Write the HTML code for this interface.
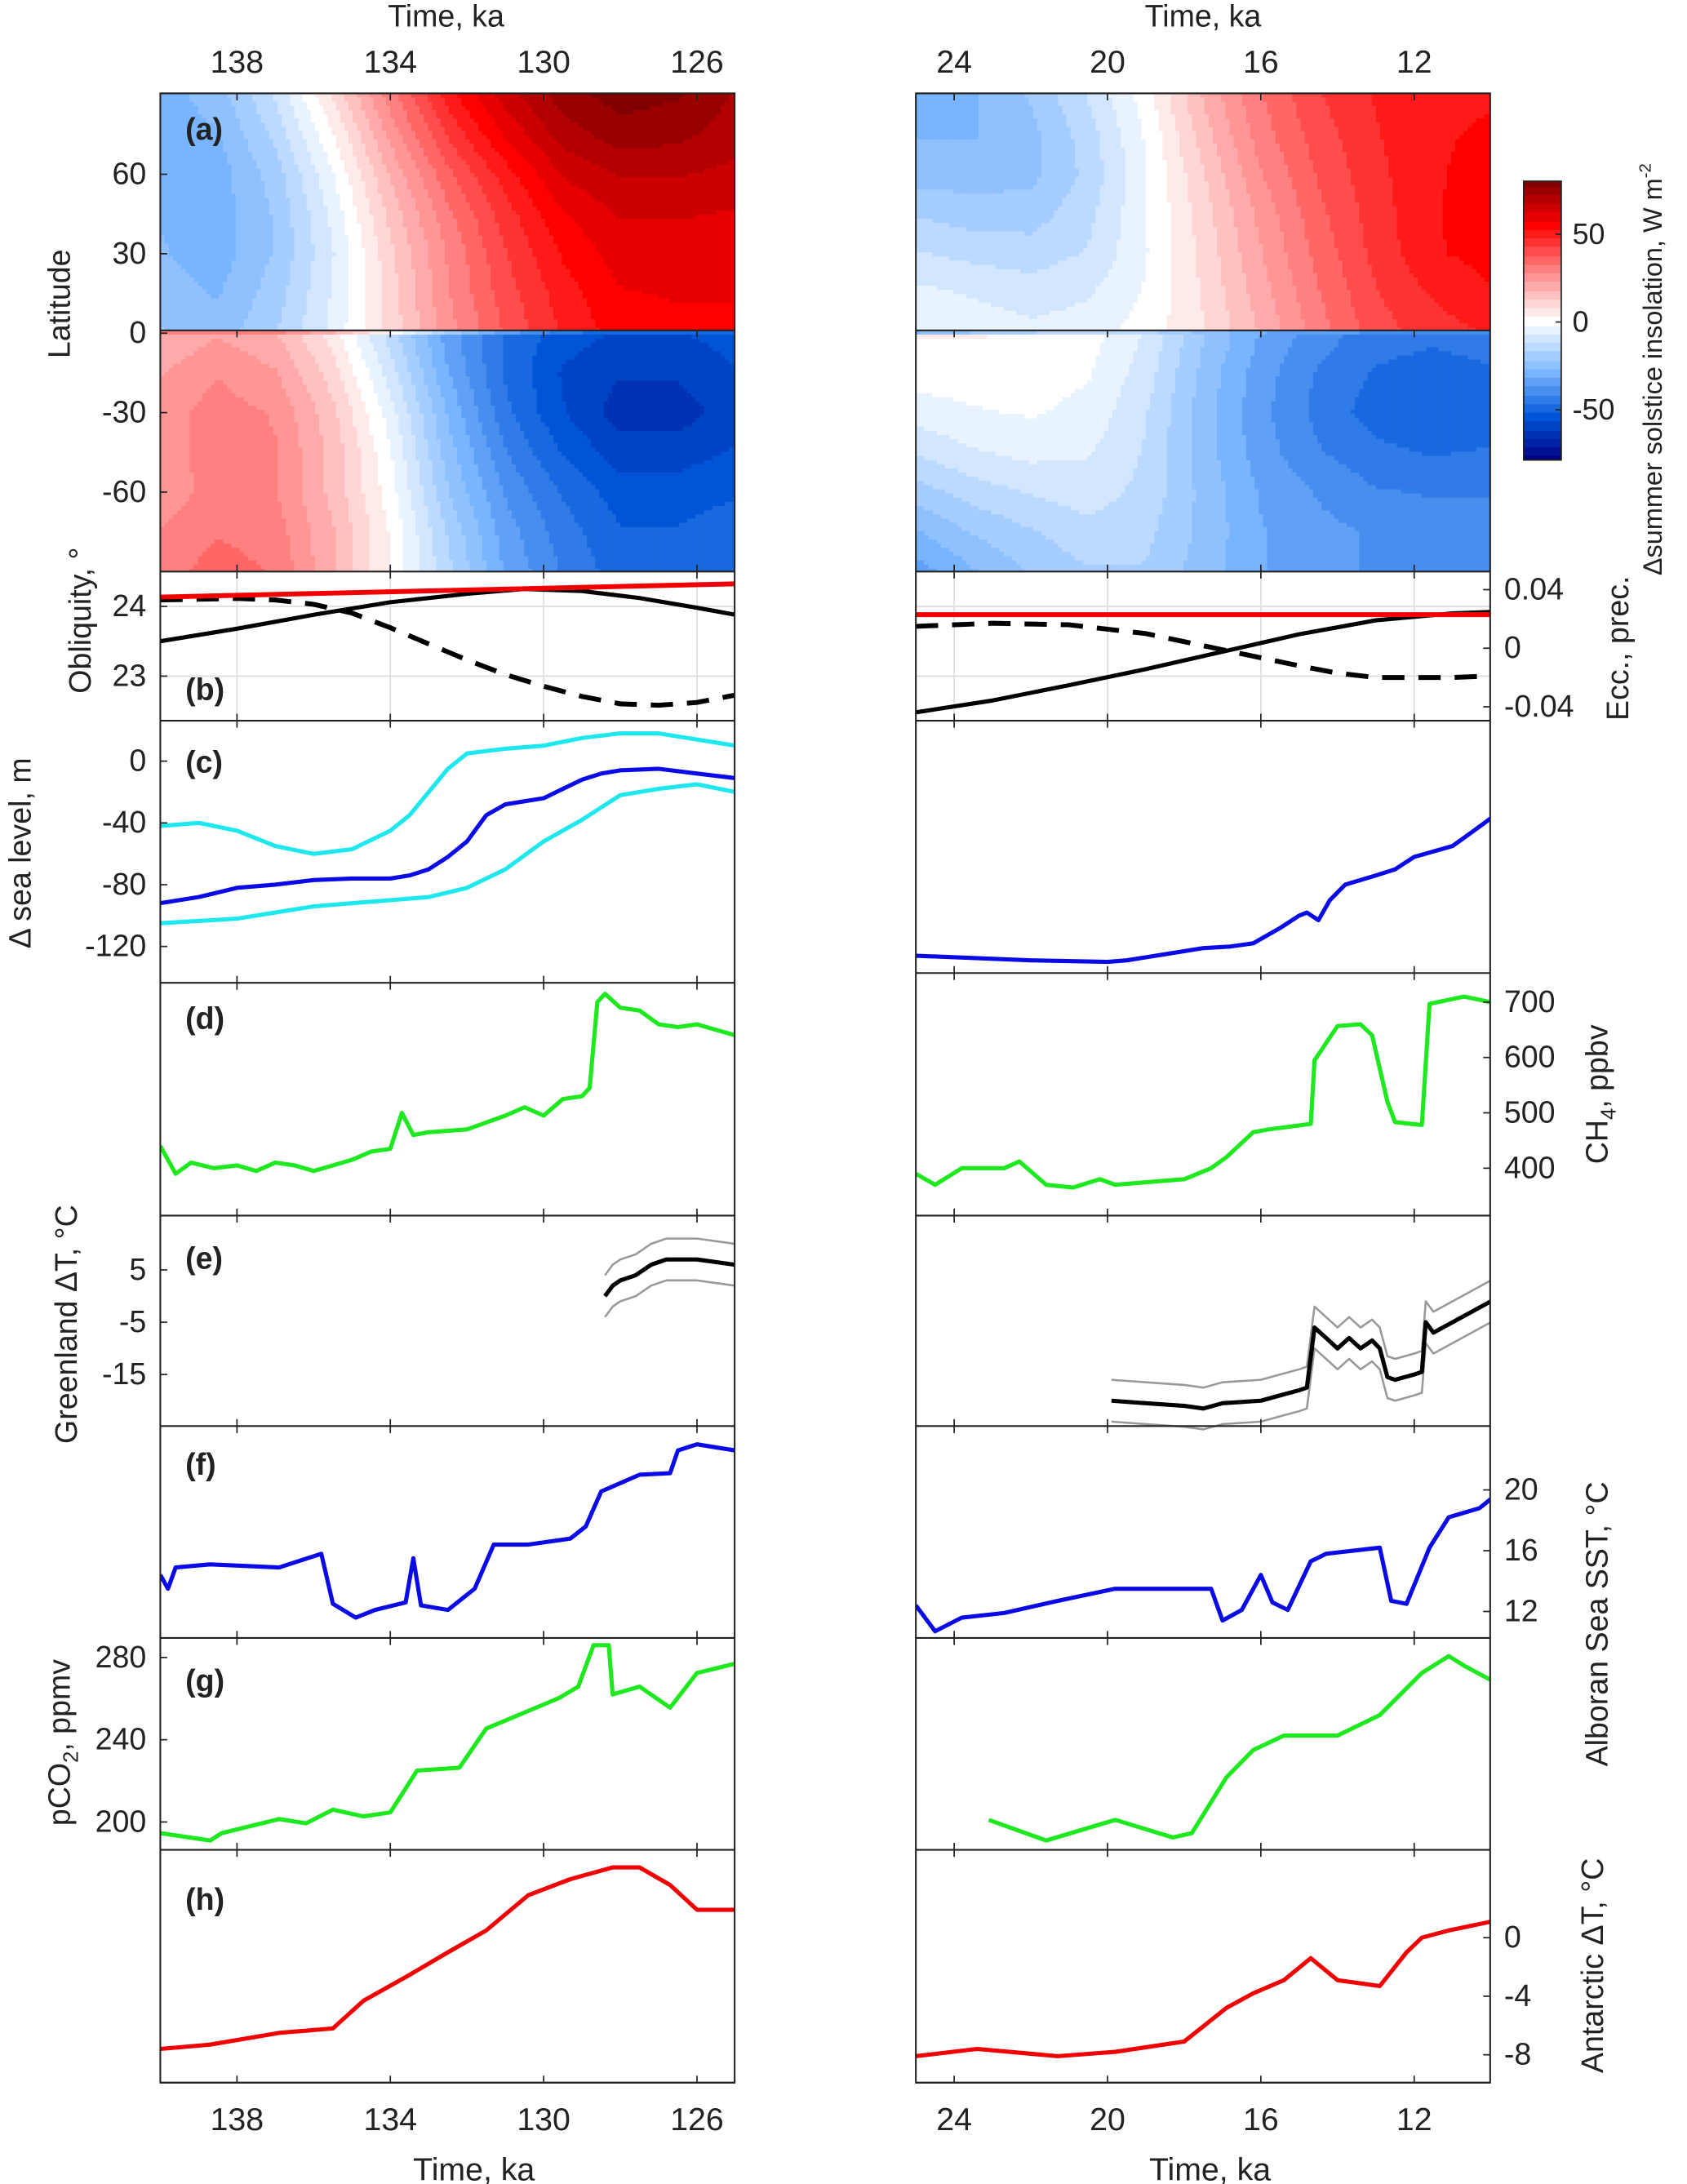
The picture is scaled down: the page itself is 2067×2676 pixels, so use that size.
<!DOCTYPE html>
<html><head><meta charset="utf-8"><style>
html,body{margin:0;padding:0;background:#fff}
svg{display:block}
text{font-family:"Liberation Sans",sans-serif;fill:#222}
</style></head><body>
<svg id="fig" xmlns="http://www.w3.org/2000/svg" width="2067" height="2676" viewBox="0 0 1210.2 1566.7" preserveAspectRatio="none">
<defs>
<clipPath id="cL"><rect x="115" y="67" width="412" height="1427"/></clipPath>
<clipPath id="cR"><rect x="657" y="67" width="412" height="1427"/></clipPath>
</defs>
<g id="heat"></g>
<g id="grid"></g>
<g id="series"></g>
<g id="axes"></g>
<g id="labels">
<text x="320" y="19" font-size="22" text-anchor="middle">Time, ka</text>
<text x="863" y="19" font-size="22" text-anchor="middle">Time, ka</text>
<text x="340" y="1564" font-size="23" text-anchor="middle">Time, ka</text>
<text x="868" y="1564" font-size="23" text-anchor="middle">Time, ka</text>
<text transform="translate(50,218) rotate(-90)" font-size="22" text-anchor="middle">Latitude</text>
<text transform="translate(65,445) rotate(-90)" font-size="22" text-anchor="middle">Obliquity, °</text>
<text transform="translate(22,612) rotate(-90)" font-size="22" text-anchor="middle">Δ sea level, m</text>
<text transform="translate(55,950) rotate(-90)" font-size="22" text-anchor="middle">Greenland ΔT, °C</text>
<text transform="translate(50,1250) rotate(-90)" font-size="22" text-anchor="middle">pCO<tspan font-size="15" dy="6">2</tspan><tspan dy="-6">, ppmv</tspan></text>
<text transform="translate(1168,465) rotate(-90)" font-size="22" text-anchor="middle">Ecc., prec.</text>
<text transform="translate(1153,785) rotate(-90)" font-size="22" text-anchor="middle">CH<tspan font-size="15" dy="6">4</tspan><tspan dy="-6">, ppbv</tspan></text>
<text transform="translate(1153,1165) rotate(-90)" font-size="22" text-anchor="middle">Alboran Sea SST, °C</text>
<text transform="translate(1150,1410) rotate(-90)" font-size="22" text-anchor="middle">Antarctic ΔT, °C</text>
<text transform="translate(1192,265) rotate(-90)" font-size="19" text-anchor="middle">Δsummer solstice insolation, W m<tspan font-size="12" dy="-8">-2</tspan></text>
</g>
</svg>
<script>
// ---------- DATA ----------
const heatTimesL=[140,138.5,137,135.5,134,132.5,131,129.5,128,126.5,125];
const heatTimesR=[25,23.5,22,20.5,19,17.5,16,14.5,13,11.5,10];
const latsN=[90,75,60,45,30,15,0];
const latsS=[0,-15,-30,-45,-60,-75,-90];
const heatNL=[[-30,-30,-28,-28,-27,-25,-22],[-25,-28,-30,-30,-30,-28,-25],[-12,-16,-20,-22,-22,-20,-18],[8,2,-3,-6,-8,-7,-6],[30,24,18,14,11,10,9],[50,43,36,31,28,27,25],[65,58,50,45,42,40,38],[75,70,63,57,53,50,48],[80,75,68,63,60,57,55],[78,74,68,63,60,58,56],[72,70,66,62,60,58,56]];
const heatSL=[[18,22,25,25,24,28,30],[22,27,30,30,30,32,35],[18,23,27,28,28,30,32],[5,10,14,16,16,18,18],[-15,-10,-5,-2,0,2,2],[-35,-32,-28,-25,-22,-18,-16],[-48,-48,-46,-42,-38,-35,-33],[-55,-58,-57,-53,-48,-45,-43],[-58,-62,-65,-60,-55,-52,-50],[-58,-62,-65,-60,-55,-52,-52],[-55,-58,-60,-57,-53,-50,-50]];
const heatNR=[[-30,-28,-25,-18,-12,-6,-3],[-28,-28,-25,-20,-14,-8,-4],[-22,-24,-24,-20,-15,-10,-6],[-12,-15,-16,-14,-12,-8,-5],[0,-2,-3,-3,-3,-2,0],[18,15,12,10,9,8,7],[32,30,27,24,22,20,18],[42,40,38,36,34,32,30],[48,47,46,45,44,42,40],[52,52,52,52,52,48,45],[52,53,54,55,54,52,48]];
const heatSR=[[3,0,-5,-12,-20,-28,-35],[3,0,-3,-8,-15,-22,-28],[2,0,-2,-6,-12,-18,-22],[0,-2,-4,-7,-10,-14,-18],[-8,-10,-12,-13,-14,-16,-18],[-22,-24,-25,-25,-24,-24,-25],[-33,-35,-36,-35,-33,-32,-32],[-40,-43,-44,-42,-38,-36,-36],[-45,-48,-50,-46,-42,-38,-38],[-46,-50,-52,-48,-43,-40,-40],[-45,-48,-50,-47,-43,-40,-42]];

const oblTL=[140,138,136,134,132,130.5,129,127.5,126,125];
const oblVL=[23.5,23.68,23.88,24.06,24.18,24.25,24.22,24.12,23.98,23.88];
const precTL=[140,138,137,136,135,134,133,132,131,130,129,128,127,126,125];
const precVL=[0.033,0.034,0.033,0.030,0.024,0.014,0.003,-0.008,-0.018,-0.026,-0.033,-0.038,-0.039,-0.037,-0.032];
const eccTL=[140,125];
const eccVL=[0.035,0.044];
const oblTR=[25,23,21,19,17,15,13,11,10];
const oblVR=[22.48,22.65,22.87,23.1,23.35,23.6,23.8,23.9,23.92];
const precTR=[25,23,21,19,17,15,14,13,12,11,10];
const precVR=[0.015,0.017,0.016,0.01,-0.001,-0.012,-0.017,-0.02,-0.02,-0.02,-0.019];
const eccTR=[25,10];
const eccVR=[0.023,0.023];

const slTL=[140,139,138,137,136,135,134,133.5,133,132.5,132,131.5,131,130,129.5,129,128.5,128,127,126,125];
const slVL=[-92,-88,-82,-80,-77,-76,-76,-74,-70,-62,-52,-35,-28,-24,-18,-12,-8,-6,-5,-8,-11];
const slUpTL=[140,139,138,137,136,135,134,133.5,133,132.5,132,131,130,129,128,127,126,125];
const slUpVL=[-42,-40,-45,-55,-60,-57,-45,-35,-20,-5,5,8,10,15,18,18,14,10];
const slLoTL=[140,138,137,136,135,134,133,132,131,130,129,128,127,126,125];
const slLoVL=[-105,-102,-98,-94,-92,-90,-88,-82,-70,-52,-38,-22,-18,-15,-20];
const slTR=[25,22,20,19.5,18.5,17.5,16.8,16.2,15.5,15,14.8,14.5,14.2,13.8,13,12.5,12,11,10.5,10];
const slVR=[-126,-129,-130,-129,-125,-121,-120,-118,-108,-100,-98,-103,-90,-80,-74,-70,-62,-55,-46,-37];

const ch4TL=[140,139.6,139.2,138.6,138,137.5,137,136.5,136,135.5,135,134.5,134,133.7,133.4,133,132,131,130.5,130,129.5,129,128.8,128.6,128.4,128,127.5,127,126.5,126,125.5,125];
const ch4VL=[440,390,410,400,405,395,410,405,395,405,415,430,435,500,460,465,470,495,510,495,525,530,545,700,715,690,685,660,655,660,650,640];
const ch4TR=[25,24.5,23.8,22.7,22.3,21.6,20.9,20.2,19.8,18,17.3,16.9,16.2,15.8,14.7,14.6,14,13.4,13.1,12.7,12.5,11.8,11.6,10.7,10];
const ch4VR=[390,370,400,400,412,370,365,380,370,380,400,420,465,470,480,595,657,660,640,520,483,478,697,710,700];

const grTL=[128.4,128.2,128,127.6,127.2,126.8,126,125];
const grVL=[0,2,3,4,6,7,7,6];
const grTR=[19.9,19,18,17.5,17,16,15.5,15,14.8,14.6,14.3,14,13.7,13.4,13.1,12.9,12.7,12.5,12,11.8,11.7,11.5,11,10.5,10];
const grVR=[-20,-20.5,-21,-21.5,-20.5,-20,-19,-18,-17.5,-6,-8,-10,-8,-10,-8.5,-10,-15.5,-16,-15,-14.5,-5,-7,-5,-3,-1];
const grErr=[4];

const sstTL=[140,139.8,139.6,138.7,136.9,135.8,135.5,134.9,134.4,133.6,133.4,133.2,132.5,131.8,131.3,130.4,129.3,128.9,128.5,127.5,126.7,126.5,126,125];
const sstVL=[14.4,13.5,14.9,15.1,14.9,15.8,12.5,11.6,12.1,12.6,15.5,12.4,12.1,13.5,16.4,16.4,16.8,17.6,19.9,21,21.1,22.6,23,22.6];
const sstTR=[25,24.5,23.8,22.7,21.3,19.8,18.7,17.3,17,16.5,16,15.7,15.3,14.7,14.3,13.6,12.9,12.6,12.2,11.6,11.1,10.3,10];
const sstVR=[12.4,10.7,11.6,11.9,12.7,13.5,13.5,13.5,11.4,12.1,14.4,12.6,12.1,15.3,15.8,16,16.2,12.7,12.5,16.2,18.2,18.8,19.4];

const co2TL=[140,138.7,138.4,136.9,136.2,135.5,134.7,134,133.3,132.2,131.5,129.6,129.1,128.7,128.3,128.2,127.5,126.7,126,125];
const co2VL=[194.6,191,194.6,201.4,199.3,206,202.7,204.7,225,226.4,245.4,260.3,265.8,286,286,262,265.8,255.6,272.5,277];
const co2TR=[23.1,21.6,19.8,18.3,17.8,16.9,16.2,15.4,14,12.9,11.8,11.1,10.7,10];
const co2VR=[201,191,201,192.5,194.6,221.7,235,242,242,252,272.5,280.7,276,269];

const antTL=[140,138.7,136.9,135.5,134.7,133.6,132.5,131.5,130.4,129.3,128.2,127.5,126.7,126,125];
const antVL=[-7.6,-7.3,-6.5,-6.2,-4.3,-2.7,-1,0.5,2.9,4,4.8,4.8,3.6,1.9,1.9];
const antTR=[25,23.4,21.3,19.8,18,16.9,16.2,15.4,14.7,14,12.9,12.2,11.8,11.1,10];
const antVR=[-8.1,-7.6,-8.1,-7.8,-7.1,-4.8,-3.8,-2.9,-1.4,-2.9,-3.3,-1,0,0.5,1.1];

const ticksTL=[138,134,130,126];
const ticksTR=[24,20,16,12];
const latTicks=[60,30,0,-30,-60];
const cbTicks=[50,0,-50];

// ---------- SCALES ----------
const NS='http://www.w3.org/2000/svg';
const xL=t=>115+(140-t)*27.5;
const xR=t=>657+(25-t)*27.5;
const yLat=l=>239-l*1.9;
const yObl=v=>435-(v-24)*50;
const yEcc=v=>465-v*1050;
const ySL=v=>546-v*1.108;
const yCH4=v=>838-(v-400)*0.397;
const yGr=v=>911-(v-5)*3.75;
const ySST=v=>1156-(v-12)*10.9;
const yCO2=v=>1307-(v-200)*1.475;
const yAnt=v=>1390-v*10.5;

function mk(tag,attrs,parent){const e=document.createElementNS(NS,tag);for(const k in attrs)e.setAttribute(k,attrs[k]);parent.appendChild(e);return e;}

// ---------- HEATMAP ----------
const stops=[[-80,[0,0,128]],[-55,[0,85,215]],[-30,[120,180,255]],[0,[255,255,255]],[30,[255,128,128]],[55,[255,0,0]],[80,[128,0,0]]];
function col(v){v=Math.round(v/5)*5;v=Math.max(-80,Math.min(80,v));
 for(let i=0;i<stops.length-1;i++){const a=stops[i],b=stops[i+1];if(v<=b[0]){const f=(v-a[0])/(b[0]-a[0]);const c=a[1].map((x,j)=>Math.round(x+(b[1][j]-x)*f));return 'rgb('+c.join(',')+')';}}
 return 'rgb(128,0,0)';}
function interp(times,lats,M,t,l){
 let i=0;while(i<times.length-2 && !((t<=times[i]&&t>=times[i+1])||(t>=times[i]&&t<=times[i+1])))i++;
 let fi=(t-times[i])/(times[i+1]-times[i]);fi=Math.max(0,Math.min(1,fi));
 let j=0;while(j<lats.length-2 && !(l<=lats[j]&&l>=lats[j+1]))j++;
 let fj=(l-lats[j])/(lats[j+1]-lats[j]);fj=Math.max(0,Math.min(1,fj));
 const a=M[i][j],b=M[i+1][j],c=M[i][j+1],d=M[i+1][j+1];
 return (a*(1-fi)+b*fi)*(1-fj)+(c*(1-fi)+d*fi)*fj;}
const heat=document.getElementById('heat');
function drawHeat(x0,times,lats,M,y0,y1,name,clip){
 const g=mk('g',{'clip-path':'url(#'+clip+')'},heat);
 
 
 const cw=3,ch=3;
 const t0=times[0],t1=times[times.length-1];
 for(let px=0;px<412;px+=cw){const t=t0+(t1-t0)*(px+cw/2)/412;
  let run=null,runY=0;
  for(let py=y0;py<y1;py+=ch){const l=(239-(py+ch/2))/1.9;const c=col(interp(times,lats,M,t,l));
   if(c!==run){if(run)mk('rect',{x:x0+px,y:runY,width:cw+0.6,height:py-runY+0.6,fill:run},g);run=c;runY=py;}}
  mk('rect',{x:x0+px,y:runY,width:cw+0.6,height:y1-runY,fill:run},g);}
}
drawHeat(115,heatTimesL,latsN,heatNL,67,237,'heatmap-north-left','cL');
drawHeat(115,heatTimesL,latsS,heatSL,237,410,'heatmap-south-left','cL');
drawHeat(657,heatTimesR,latsN,heatNR,67,237,'heatmap-north-right','cR');
drawHeat(657,heatTimesR,latsS,heatSR,237,410,'heatmap-south-right','cR');
// colorbar
const cb=mk('g',{},heat);


for(let y=130;y<330;y+=1){const v=80-(y-130)*160/200;mk('rect',{x:1093,y:y,width:27,height:1.4,fill:col(v)},cb);}
mk('rect',{x:1093,y:130,width:27,height:200,fill:'none',stroke:'#222','stroke-width':1},cb);
cbTicks.forEach(v=>{const y=231-v*1.26;mk('line',{x1:1116,x2:1120,y1:y,y2:y,stroke:'#222'},cb);
 const t=mk('text',{x:1128,y:y+7,'font-size':21},cb);t.textContent=v;
 
 });

// ---------- GRID (panel b) ----------
const grid=document.getElementById('grid');
[[115,xL,ticksTL],[657,xR,ticksTR]].forEach(([x0,xs,tk])=>{
 [435,485].forEach(y=>mk('line',{x1:x0,x2:x0+412,y1:y,y2:y,stroke:'#ddd','stroke-width':1},grid));
 tk.forEach(t=>mk('line',{x1:xs(t),x2:xs(t),y1:410,y2:517,stroke:'#ddd','stroke-width':1},grid));
});

// ---------- SERIES ----------
const ser=document.getElementById('series');
function line(ts,vs,xs,ys,color,w,name,clip,dash){
 let d='';ts.forEach((t,i)=>{d+=(i?'L':'M')+xs(t).toFixed(1)+','+ys(vs[i]).toFixed(1);});
 const p=mk('path',{d:d,fill:'none',stroke:color,'stroke-width':w,'stroke-linejoin':'round','clip-path':'url(#'+clip+')'},ser);
 if(dash)p.setAttribute('stroke-dasharray',dash);
 
 
 return p;}
const G='#1ee81e',B='#0a0ae6',C='#1ee8ee',R='#f00000';
line(oblTL,oblVL,xL,yObl,'#000',3,'obliquity-line-left','cL');
line(precTL,precVL,xL,yEcc,'#000',3.5,'precession-line-left','cL','16,10');
line(eccTL,eccVL,xL,yEcc,R,3.5,'eccentricity-line-left','cL');
line(oblTR,oblVR,xR,yObl,'#000',3,'obliquity-line-right','cR');
line(precTR,precVR,xR,yEcc,'#000',3.5,'precession-line-right','cR','16,10');
line(eccTR,eccVR,xR,yEcc,R,3.5,'eccentricity-line-right','cR');
line(slUpTL,slUpVL,xL,ySL,C,3,'sea-level-upper-left','cL');
line(slLoTL,slLoVL,xL,ySL,C,3,'sea-level-lower-left','cL');
line(slTL,slVL,xL,ySL,B,3,'sea-level-left','cL');
line(slTR,slVR,xR,ySL,B,3,'sea-level-right','cR');
line(ch4TL,ch4VL,xL,yCH4,G,3,'ch4-left','cL');
line(ch4TR,ch4VR,xR,yCH4,G,3,'ch4-right','cR');
line(grTL,grVL.map(v=>v+grErr[0]),xL,yGr,'#999',1.5,'greenland-upper-left','cL');
line(grTL,grVL.map(v=>v-grErr[0]),xL,yGr,'#999',1.5,'greenland-lower-left','cL');
line(grTL,grVL,xL,yGr,'#000',3,'greenland-left','cL');
line(grTR,grVR.map(v=>v+grErr[0]),xR,yGr,'#999',1.5,'greenland-upper-right','cR');
line(grTR,grVR.map(v=>v-grErr[0]),xR,yGr,'#999',1.5,'greenland-lower-right','cR');
line(grTR,grVR,xR,yGr,'#000',3,'greenland-right','cR');
line(sstTL,sstVL,xL,ySST,B,3,'sst-left','cL');
line(sstTR,sstVR,xR,ySST,B,3,'sst-right','cR');
line(co2TL,co2VL,xL,yCO2,G,3,'co2-left','cL');
line(co2TR,co2VR,xR,yCO2,G,3,'co2-right','cR');
line(antTL,antVL,xL,yAnt,R,3,'antarctic-left','cL');
line(antTR,antVR,xR,yAnt,R,3,'antarctic-right','cR');

// ---------- AXES ----------
const ax=document.getElementById('axes');
const bounds=[67,237,410,517,705,872,1023,1175,1327,1494];
const boundsR=[67,237,410,517,698,872,1023,1175,1327,1494];
function frame(x0,bs,side){
 mk('rect',{x:x0,y:67,width:412,height:1427,fill:'none',stroke:'#222','stroke-width':1.2},ax);
 bs.forEach(y=>mk('line',{x1:x0,x2:x0+412,y1:y,y2:y,stroke:'#222','stroke-width':1.2},ax));
 const xs=side==='L'?xL:xR, tk=side==='L'?ticksTL:ticksTR;
 for(let i=0;i<bs.length-1;i++){ if(i===0)continue;
  tk.forEach(t=>{const x=xs(t);mk('line',{x1:x,x2:x,y1:bs[i],y2:bs[i]+5,stroke:'#222'},ax);mk('line',{x1:x,x2:x,y1:bs[i+1],y2:bs[i+1]-5,stroke:'#222'},ax);});}
 tk.forEach(t=>{const x=xs(t);mk('line',{x1:x,x2:x,y1:67,y2:72,stroke:'#222'},ax);
  const a=mk('text',{x:x,y:52,'font-size':23,'text-anchor':'middle'},ax);a.textContent=t;
  
  
  const b=mk('text',{x:x,y:1528,'font-size':23,'text-anchor':'middle'},ax);b.textContent=t;
  
  });
}
frame(115,bounds,'L');frame(657,boundsR,'R');
function yt(x0,y,label,right){
 mk('line',{x1:x0,x2:x0+(right?-5:5),y1:y,y2:y,stroke:'#222'},ax);
 if(label!==null){const t=mk('text',{x:right?x0+10:x0-10,y:y+7,'font-size':22,'text-anchor':right?'start':'end'},ax);t.textContent=label;
  
  }}
latTicks.forEach(l=>yt(115,yLat(l),l,false));
[24,23].forEach(v=>yt(115,yObl(v),v,false));
[0,-40,-80,-120].forEach(v=>yt(115,ySL(v),v,false));
[5,-5,-15].forEach(v=>yt(115,yGr(v),v,false));
[280,240,200].forEach(v=>yt(115,yCO2(v),v,false));
[0.04,0,-0.04].forEach(v=>yt(1069,yEcc(v),v===0?'0':(v>0?'0.04':'-0.04'),true));
[700,600,500,400].forEach(v=>yt(1069,yCH4(v),v,true));
[20,16,12].forEach(v=>yt(1069,ySST(v),v,true));
[0,-4,-8].forEach(v=>yt(1069,yAnt(v),v,true));
// panel letters
const letters=[['(a)',100],['(b)',502],['(c)',554],['(d)',738],['(e)',910],['(f)',1058],['(g)',1213],['(h)',1370]];
letters.forEach(([s,y])=>{const t=mk('text',{x:133,y:y,'font-size':22,'font-weight':'bold'},ax);t.textContent=s;
 
 });
</script>
</body></html>
